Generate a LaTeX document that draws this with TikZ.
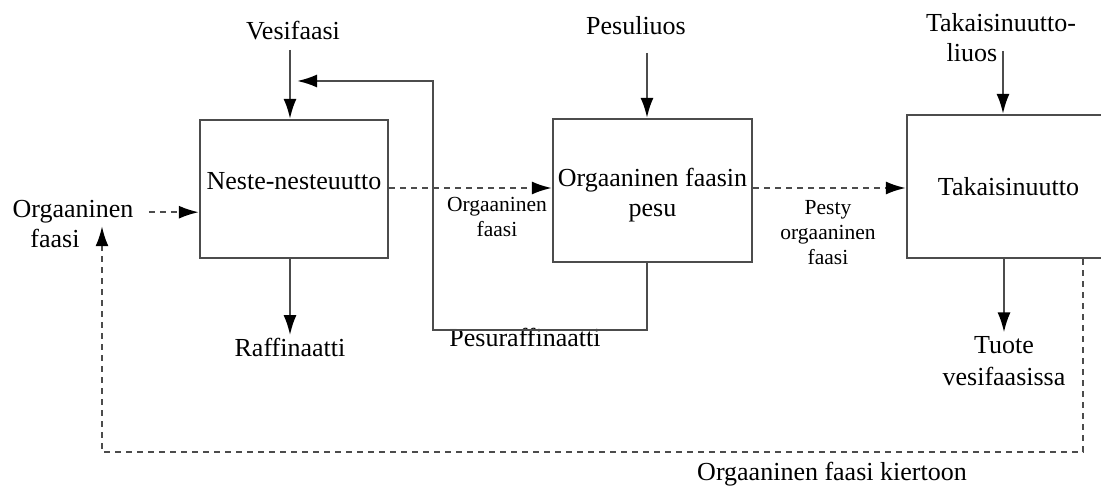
\documentclass[tikz,border=0pt]{standalone}
\usepackage{fontspec}
\setmainfont{Liberation Serif}
\usetikzlibrary{positioning,arrows.meta}

\begin{document}
\begin{tikzpicture}[
    x=1pt, y=-1pt,
    unit/.style={%
      draw=black!70,
      line width=2.2pt,
      rectangle,
      inner sep=2pt,
      align=center,
      font=\fontsize{26}{30}\selectfont,
    },
    txt/.style={font=\fontsize{26}{32}\selectfont, align=center},
    small/.style={font=\fontsize{21.5}{25}\selectfont, align=center},
    flow/.style={%
      draw=black!70,
      line width=2.2pt,
      -{Latex[length=20pt,width=13pt,color=black]},
    },
    orgflow/.style={flow, dash pattern=on 6pt off 5pt},
  ]

    \useasboundingbox (0,0) rectangle (1101,486);
    \clip (0,0) rectangle (1101,486);

    \node [unit, minimum width=188pt, minimum height=138pt, text height=17pt, text depth=15pt] (neste) at (294,189) {Neste-nesteuutto};
    \node [unit, minimum width=199pt, minimum height=143pt, text height=53pt, text depth=0pt] (pesu) at (652.5,190.5) {Orgaaninen faasin\\pesu};
    \node [unit, minimum width=203pt, minimum height=143pt] (taka) at (1008.5,186.5) {Takaisinuutto};

    \node [txt, anchor=base] (vesi) at (293,40) {Vesifaasi};
    \node [txt, anchor=base] (pesuliuos) at (636,35) {Pesuliuos};
    \node [txt, anchor=base] (takaliuos) at (1001,32) {Takaisinuutto-};
    \node [txt, anchor=base] (liuos) at (972,62) {liuos};
    \node [txt, anchor=base] (orgin) at (73,218) {Orgaaninen};
    \node [txt, anchor=base] (orgin2) at (55,248) {faasi};
    \node [small, anchor=base] (orgvali) at (497,237) {Orgaaninen\\faasi};
    \node [small, anchor=base] (pesty) at (828,265) {Pesty\\orgaaninen\\faasi};
    \node [txt, anchor=base] (raff) at (290,357) {Raffinaatti};
    \node [txt, anchor=base] (pesuraff) at (525,347) {Pesuraffinaatti};
    \node [txt, anchor=base] (tuote) at (1004,385) {Tuote\\vesifaasissa};
    \node [txt, anchor=base] (kiertoon) at (832,480) {Orgaaninen faasi kiertoon};

    \coordinate (pesuala) at (433,330);
    \coordinate (paluu) at (297,81);
    \coordinate (kierto) at (102,452);

    \draw [flow, shorten <=6pt] ([xshift=-4pt]neste.north |- vesi.south) -- ([xshift=-4pt]neste.north);
    \draw [flow, shorten <=14pt] ([xshift=-5.5pt]pesu.north |- pesuliuos.south) -- ([xshift=-5.5pt]pesu.north);
    \draw [flow, shorten <=15pt] ([xshift=-5.5pt]taka.north |- takaliuos.south) -- ([xshift=-5.5pt]taka.north);
    \draw [orgflow, shorten <=12pt] (orgin.east) -- (orgin.east -| neste.west);
    \draw [orgflow] ([yshift=1pt]neste.east) -- ([yshift=1pt]neste.east -| pesu.west);
    \draw [orgflow] ([yshift=1pt]neste.east -| pesu.east) -- ([yshift=1pt]neste.east -| taka.west);
    \draw [flow] ([xshift=-4pt]neste.south) -- ([xshift=-4pt]neste.south |- raff.north);
    \draw [flow] ([xshift=-4.5pt]taka.south) -- ([xshift=-4.5pt]taka.south |- tuote.north);
    \draw [flow] ([xshift=-5.5pt]pesu.south) |- (pesuala) |- (paluu);
    \draw [orgflow] ([xshift=74.5pt]taka.south) |- (kierto) -- (kierto |- orgin2.north);
\end{tikzpicture}
\end{document}
